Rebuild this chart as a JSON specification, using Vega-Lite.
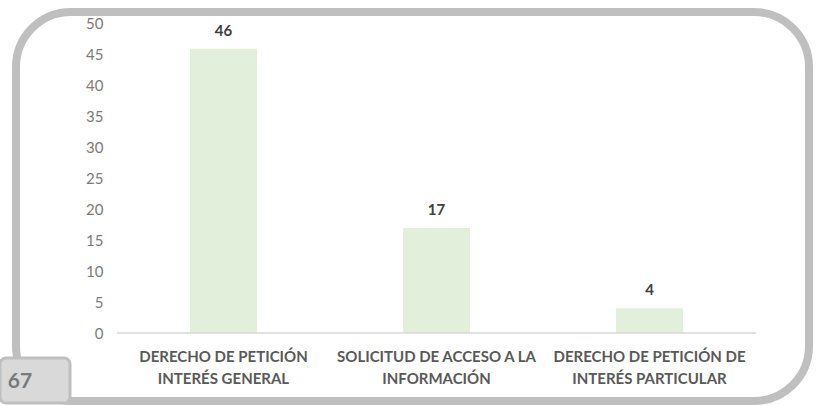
{
  "$schema": "https://vega.github.io/schema/vega-lite/v6.json",
  "autosize": {"type": "none"},
  "padding": {"left": 16, "top": 12, "right": 7, "bottom": 4},
  "width": 793,
  "height": 389,
  "background": "white",
  "config": {
    "view": {"stroke": "#bfbfbf", "strokeWidth": 8, "cornerRadius": 55},
    "font": "Lato"
  },
  "data": {
    "values": [
      {"categoria": "DERECHO DE PETICIÓN INTERÉS GENERAL", "valor": 46},
      {"categoria": "SOLICITUD DE ACCESO A LA INFORMACIÓN", "valor": 17},
      {"categoria": "DERECHO DE PETICIÓN DE INTERÉS PARTICULAR", "valor": 4}
    ]
  },
  "encoding": {
    "x": {
      "field": "categoria",
      "type": "nominal",
      "sort": null,
      "scale": {"paddingInner": 0.68545, "paddingOuter": 0.70422, "align": 0.58},
      "axis": {
        "title": null,
        "labelAngle": 0,
        "ticks": false,
        "domain": false,
        "offset": -52,
        "labelPadding": 0,
        "labelFont": "Lato",
        "labelFontSize": 15,
        "labelFontWeight": "bold",
        "labelColor": "#595959",
        "labelLineHeight": 22,
        "labelLimit": 400,
        "labelExpr": "datum.value == 'DERECHO DE PETICIÓN INTERÉS GENERAL' ? ['DERECHO DE PETICIÓN','INTERÉS GENERAL'] : datum.value == 'SOLICITUD DE ACCESO A LA INFORMACIÓN' ? ['SOLICITUD DE ACCESO A LA','INFORMACIÓN'] : ['DERECHO DE PETICIÓN DE','INTERÉS PARTICULAR']"
      }
    },
    "y": {
      "field": "valor",
      "type": "quantitative",
      "scale": {"domain": [-11, 51.94], "nice": false, "zero": false},
      "axis": {
        "title": null,
        "values": [0, 5, 10, 15, 20, 25, 30, 35, 40, 45, 50],
        "grid": false,
        "ticks": false,
        "domain": false,
        "offset": -87,
        "labelPadding": 0,
        "labelFont": "Lato",
        "labelFontSize": 15,
        "labelColor": "#7a7a7a"
      }
    }
  },
  "layer": [
    {
      "mark": {"type": "bar", "color": "#e2efda"}
    },
    {
      "mark": {"type": "text", "font": "Lato", "fontSize": 15, "fontWeight": "bold", "color": "#404040", "baseline": "alphabetic", "dy": -13},
      "encoding": {"text": {"field": "valor", "type": "quantitative"}}
    },
    {
      "transform": [{"filter": "datum.valor == 46"}],
      "mark": {"type": "rule", "color": "#d9d9d9", "strokeWidth": 1.5},
      "encoding": {
        "x": {"datum": "DERECHO DE PETICIÓN INTERÉS GENERAL", "type": "nominal", "bandPosition": -1.0896},
        "x2": {"datum": "DERECHO DE PETICIÓN DE INTERÉS PARTICULAR", "bandPosition": 2.0896},
        "y": {"datum": 0, "type": "quantitative"}
      }
    },
    {
      "transform": [{"filter": "datum.valor == 46"}],
      "mark": {"type": "rect", "fill": "#d9d9d9", "stroke": "#bfbfbf", "strokeWidth": 3, "cornerRadius": 6},
      "encoding": {
        "x": {"datum": "DERECHO DE PETICIÓN INTERÉS GENERAL", "type": "nominal", "bandPosition": -2.836},
        "x2": {"datum": "DERECHO DE PETICIÓN INTERÉS GENERAL", "bandPosition": -1.791},
        "y": {"datum": -4.05, "type": "quantitative"},
        "y2": {"datum": -11.33}
      }
    },
    {
      "transform": [{"filter": "datum.valor == 46"}],
      "mark": {"type": "text", "text": "67", "font": "Lato", "fontSize": 21, "fontWeight": "bold", "color": "#7a7a7a", "baseline": "middle", "align": "center"},
      "encoding": {
        "x": {"datum": "DERECHO DE PETICIÓN INTERÉS GENERAL", "type": "nominal", "bandPosition": -2.537},
        "y": {"datum": -7.93, "type": "quantitative"}
      }
    }
  ]
}
